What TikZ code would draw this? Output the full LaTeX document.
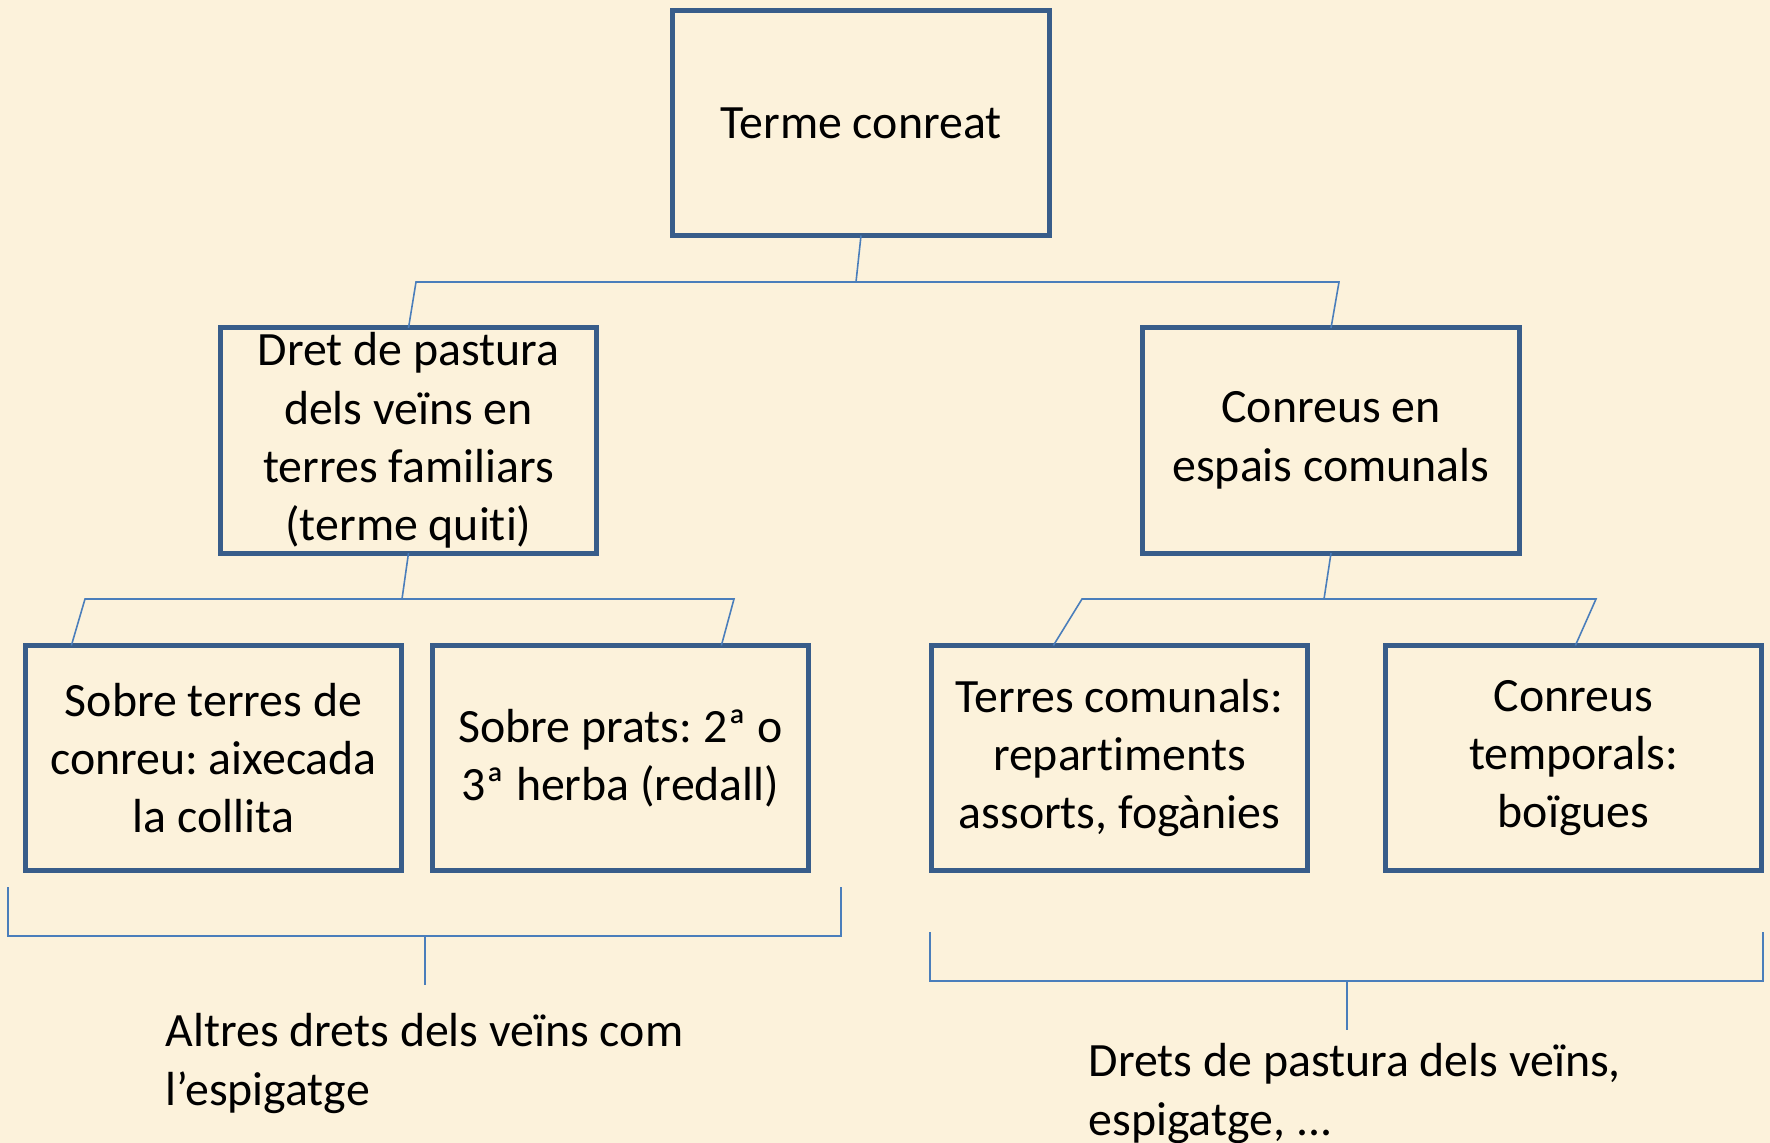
\documentclass[tikz,border=0pt]{standalone}
\usepackage{fontspec}
\setmainfont{Carlito}[Ligatures=NoCommon]
\usepackage{xcolor}
\usepackage{tikz}
\usetikzlibrary{calc}
\frenchspacing
\definecolor{parchment}{RGB}{252,242,219}
\definecolor{boxblue}{RGB}{56,93,138}
\definecolor{lineblue}{RGB}{74,126,187}
\tikzset{
  box/.style={draw=boxblue, line width=1.4pt, outer sep=0pt, inner sep=0pt,
    minimum width=3.76cm, minimum height=2.25cm, align=center,
    font=\fontsize{13.6}{16.6}\selectfont},
  link/.style={draw=lineblue, line width=0.45pt},
  note/.style={align=left, inner sep=0pt, font=\fontsize{13.6}{16.6}\selectfont}
}
\begin{document}
\begin{tikzpicture}[x=0.01cm,y=-0.01cm]
\fill[parchment] (0,0) rectangle (1770,1143);
\useasboundingbox (0,0) rectangle (1770,1143);
%%
\node[box] (terme) at (861,123) {Terme conreat};
\node[box] (pastura) at (408.5,440.5) {Dret de pastura\\dels veïns en\\terres familiars\\(terme quiti)};
\node[box] (comunals) at (1331,440.5) {Conreus en\\espais comunals};
%%
\node[box] (terres) at (213.5,758) {Sobre terres de\\conreu: aixecada\\la collita};
\node[box] (prats) at (620.5,758) {Sobre prats: 2ª o\\3ª herba (redall)};
\node[box] (repart) at (1119.5,758) {Terres comunals:\\repartiments\\assorts, fogànies};
\node[box] (temporals) at (1573.5,758) {Conreus\\temporals:\\boïgues};
%%
\coordinate (bar1l) at (416,282);
\coordinate (bar1m) at (856,282);
\coordinate (bar1r) at (1339,282);
\draw[link] (terme.south) -- (bar1m);
\draw[link] (pastura.north) -- (bar1l) -- (bar1r) -- (comunals.north);
%%
\coordinate (bar2l) at (85,599);
\coordinate (bar2m) at (402,599);
\coordinate (bar2r) at (734,599);
\draw[link] (pastura.south) -- (bar2m);
\draw[link] ($(terres.north west)+(46,0)$) -- (bar2l) -- (bar2r) -- ($(prats.north west)+(289,0)$);
%%
\coordinate (bar3l) at (1082,599);
\coordinate (bar3m) at (1324,599);
\coordinate (bar3r) at (1596,599);
\draw[link] (comunals.south) -- (bar3m);
\draw[link] ($(repart.north west)+(122,0)$) -- (bar3l) -- (bar3r) -- ($(temporals.north west)+(190,0)$);
%%
\coordinate (brl1) at (8,887);
\coordinate (brlm) at (425,936);
\coordinate (brl2) at (841,887);
\coordinate (brlend) at (425,985);
\draw[link] (brl1) |- (brlm) -| (brl2);
\draw[link] (brlm) -- (brlend);
\node[note, anchor=base west] (altres) at (165,1105) {Altres drets dels veïns com\\l’espigatge};
%%
\coordinate (brr1) at (930,932);
\coordinate (brrm) at (1347,981);
\coordinate (brr2) at (1763,932);
\coordinate (brrend) at (1347,1030);
\draw[link] (brr1) |- (brrm) -| (brr2);
\draw[link] (brrm) -- (brrend);
\node[note, anchor=base west] (drets) at (1088,1135) {Drets de pastura dels veïns,\\espigatge, ...};
\end{tikzpicture}
\end{document}
